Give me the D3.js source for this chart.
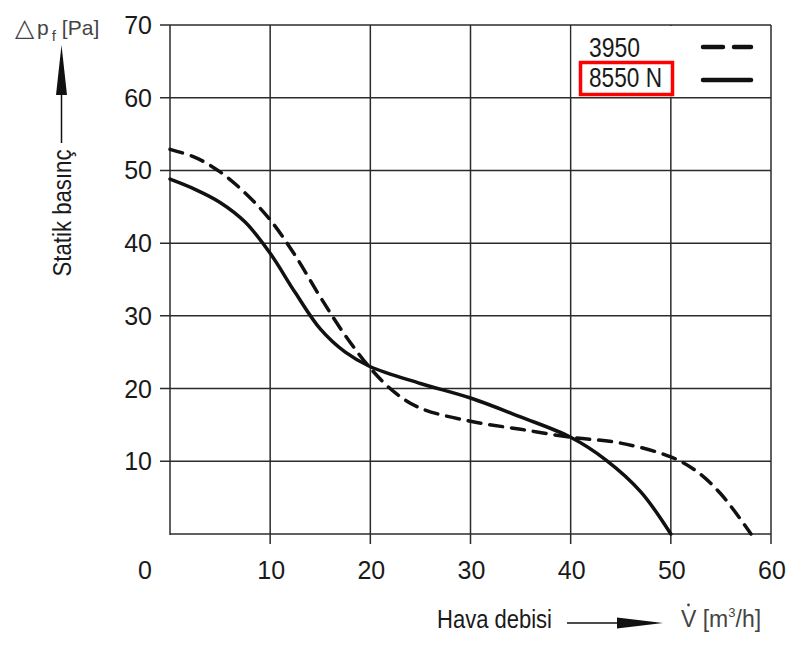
<!DOCTYPE html>
<html>
<head>
<meta charset="utf-8">
<script src="https://cdn.jsdelivr.net/npm/d3@7/dist/d3.min.js"></script>
<style>
  html, body { margin: 0; padding: 0; background: #fff; }
  svg { display: block; }
</style>
</head>
<body>
<script>
// ---- data ----
const xTicks = [10, 20, 30, 40, 50, 60];
const yTicks = [10, 20, 30, 40, 50, 60, 70];
const seriesNames = ["3950", "8550 N"];
const dashedX = [0, 2.5, 5, 7.5, 10, 12.5, 15, 17.5, 20, 22.5, 25, 30, 35, 40, 45, 50, 52.5, 55, 58];
const dashedY = [52.9, 51.8, 49.8, 46.9, 43.2, 38.3, 32.6, 27.3, 22.8, 19.4, 17.3, 15.5, 14.4, 13.3, 12.5, 10.6, 8.7, 5.5, 0];
const solidX = [0, 2.5, 5, 7.5, 10, 12.5, 15, 17.5, 20, 25, 30, 35, 40, 43.5, 47, 50];
const solidY = [48.8, 47.4, 45.6, 42.9, 38.6, 33.2, 28.2, 25.0, 23.0, 20.7, 18.7, 16.1, 13.3, 10.2, 5.8, 0];

const W = 804, H = 649;
const mLeft = 170, mRight = 771, mTop = 25, mBottom = 534;
const x = d3.scaleLinear().domain([0, 60]).range([mLeft, mRight]);
const y = d3.scaleLinear().domain([0, 70]).range([mBottom, mTop]);

const svg = d3.select("body").append("svg").attr("width", W).attr("height", H);
const gridColor = "#2b2b2b";

// grid
const g = svg.append("g");
g.selectAll(".vg").data([0].concat(xTicks)).enter().append("line")
  .attr("x1", d => x(d)).attr("x2", d => x(d))
  .attr("y1", mTop).attr("y2", d => d === 0 ? mBottom + 1 : mBottom + 10)
  .attr("stroke", gridColor).attr("stroke-width", 1.5);
g.selectAll(".hg").data([0].concat(yTicks)).enter().append("line")
  .attr("x1", d => d === 0 ? mLeft : mLeft - 10).attr("x2", mRight)
  .attr("y1", d => y(d)).attr("y2", d => y(d))
  .attr("stroke", gridColor).attr("stroke-width", 1.5);

// legend background covering grid
svg.append("rect").attr("x", x(40) + 1).attr("y", y(70) + 1)
  .attr("width", x(60) - x(40) - 2).attr("height", y(60) - y(70) - 2)
  .attr("fill", "#fff");

// tick labels
const tickFont = "'Liberation Sans', Arial, sans-serif";
svg.selectAll(".yl").data(yTicks).enter().append("text")
  .attr("x", 152).attr("y", d => y(d) + 9)
  .attr("text-anchor", "end").attr("font-family", tickFont).attr("font-size", 25)
  .attr("fill", "#1a1a1a").text(d => d);
svg.selectAll(".xl").data(xTicks).enter().append("text")
  .attr("x", d => x(d) + 1).attr("y", 579)
  .attr("text-anchor", "middle").attr("font-family", tickFont).attr("font-size", 25)
  .attr("fill", "#1a1a1a").text(d => d);
svg.append("text").attr("x", 145).attr("y", 579).attr("text-anchor", "middle")
  .attr("font-family", tickFont).attr("font-size", 25).attr("fill", "#1a1a1a").text("0");

// curves
const line = d3.line().x(d => x(d[0])).y(d => y(d[1])).curve(d3.curveCatmullRom.alpha(0.5));
const dashedData = dashedX.map((v, i) => [v, dashedY[i]]);
const solidData = solidX.map((v, i) => [v, solidY[i]]);
svg.append("path").attr("d", line(dashedData)).attr("fill", "none")
  .attr("stroke", "#111").attr("stroke-width", 3.5)
  .attr("stroke-dasharray", "13,9").attr("stroke-linecap", "round");
svg.append("path").attr("d", line(solidData)).attr("fill", "none")
  .attr("stroke", "#111").attr("stroke-width", 3.5).attr("stroke-linecap", "round");

// legend
const narrow = "'Liberation Sans Narrow', 'Liberation Sans', Arial, sans-serif";
svg.append("text").attr("x", 589).attr("y", 57).attr("font-family", narrow)
  .attr("font-size", 27).attr("fill", "#1a1a1a")
  .attr("textLength", 51).attr("lengthAdjust", "spacingAndGlyphs").text(seriesNames[0]);
svg.append("text").attr("x", 589).attr("y", 87).attr("font-family", narrow)
  .attr("font-size", 27).attr("fill", "#1a1a1a")
  .attr("textLength", 73).attr("lengthAdjust", "spacingAndGlyphs").text(seriesNames[1]);
svg.append("rect").attr("x", 580.5).attr("y", 62.5).attr("width", 92).attr("height", 32)
  .attr("fill", "none").attr("stroke", "#ff0000").attr("stroke-width", 3.5);
svg.append("line").attr("x1", 703).attr("x2", 751).attr("y1", 47).attr("y2", 47)
  .attr("stroke", "#111").attr("stroke-width", 4.5).attr("stroke-linecap", "round")
  .attr("stroke-dasharray", "20,11");
svg.append("line").attr("x1", 703).attr("x2", 751).attr("y1", 80).attr("y2", 80)
  .attr("stroke", "#111").attr("stroke-width", 4.5).attr("stroke-linecap", "round");

// y axis title
svg.append("text").attr("transform", "translate(71,213) rotate(-90)")
  .attr("text-anchor", "middle").attr("font-family", narrow).attr("font-size", 25)
  .attr("fill", "#1a1a1a").attr("textLength", 127).attr("lengthAdjust", "spacingAndGlyphs")
  .text("Statik basınç");
svg.append("line").attr("x1", 61.5).attr("x2", 61.5).attr("y1", 90).attr("y2", 143)
  .attr("stroke", "#111").attr("stroke-width", 1.5);
svg.append("path").attr("d", "M61.5,45 L67,95 L56,95 Z").attr("fill", "#111");

// Δp_f [Pa]
svg.append("text").attr("x", 15).attr("y", 36)
  .attr("font-family", "'DejaVu Sans', sans-serif").attr("font-size", 25).attr("fill", "#444")
  .text("△");
const unitG = svg.append("text").attr("x", 37).attr("y", 35)
  .attr("font-family", "'Liberation Sans', Arial, sans-serif").attr("font-size", 21).attr("fill", "#444");
unitG.append("tspan").text("p");
unitG.append("tspan").attr("font-size", 15).attr("dy", 6).attr("dx", 3).text("f");
unitG.append("tspan").attr("dy", -6).attr("dx", 6).attr("font-size", 21).text("[Pa]");

// x axis title
svg.append("text").attr("x", 437).attr("y", 628).attr("font-family", narrow)
  .attr("font-size", 26).attr("fill", "#1a1a1a")
  .attr("textLength", 115).attr("lengthAdjust", "spacingAndGlyphs").text("Hava debisi");
svg.append("line").attr("x1", 567).attr("x2", 625).attr("y1", 623).attr("y2", 623)
  .attr("stroke", "#111").attr("stroke-width", 1.5);
svg.append("path").attr("d", "M617,617.5 L663,623 L617,628.5 Z").attr("fill", "#111");
const vt = svg.append("text").attr("x", 681).attr("y", 627)
  .attr("font-family", "'Liberation Sans', Arial, sans-serif").attr("font-size", 23).attr("fill", "#444");
vt.append("tspan").text("V [m");
vt.append("tspan").attr("font-size", 13).attr("dy", -10).text("3");
vt.append("tspan").attr("dy", 10).text("/h]");
svg.append("circle").attr("cx", 688.5).attr("cy", 605).attr("r", 1.4).attr("fill", "#444");
</script>
</body>
</html>
